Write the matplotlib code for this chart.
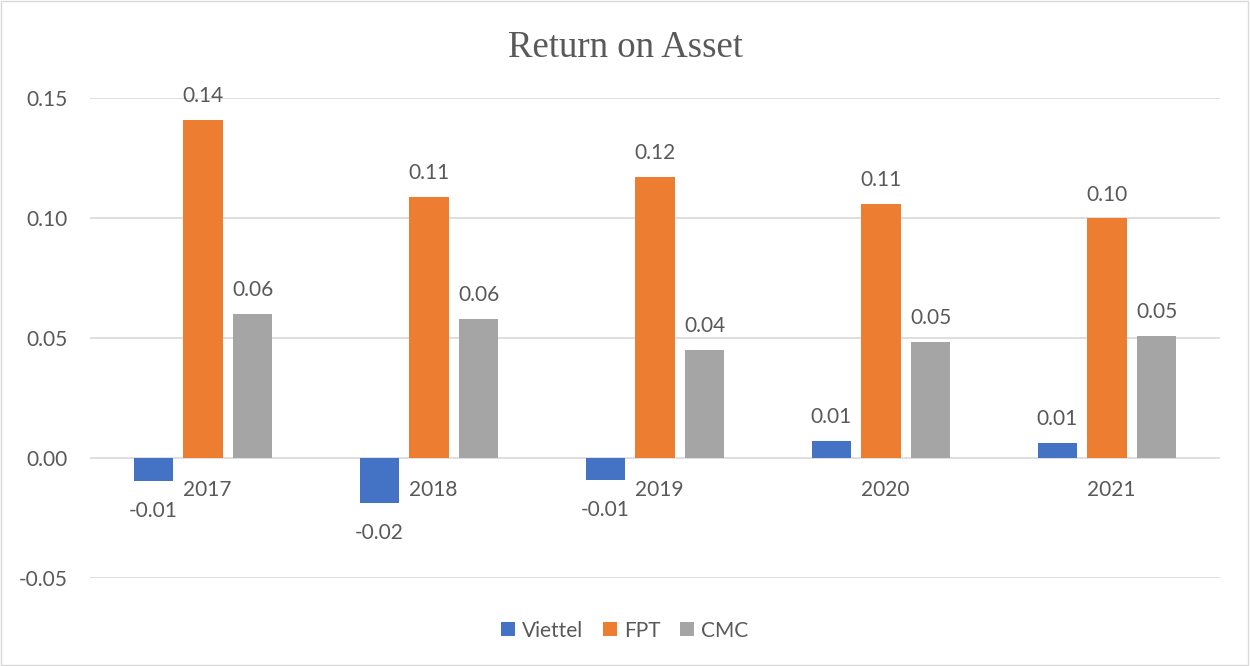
import numpy as np
import matplotlib.pyplot as plt
from matplotlib.patches import Rectangle

# valeurs
annees = ['2017', '2018', '2019', '2020', '2021']
viettel = [-0.0096, -0.0188, -0.0092, 0.0071, 0.0063]
fpt = [0.141, 0.1088, 0.117, 0.106, 0.0998]
cmc = [0.060, 0.0579, 0.045, 0.0483, 0.0508]
series = ['Viettel', 'FPT', 'CMC']
couleurs = ['#4472C4', '#ED7D31', '#A5A5A5']

gris = '#595959'
police = ['Lato', 'DejaVu Sans']
taille = 15

fig = plt.figure(figsize=(12.5, 6.66), dpi=100)
ax = fig.add_axes([0.072, 0.1321, 0.904, 0.7208])

x = np.arange(len(annees))
larg = 0.173
pas = 0.221
for k, (nom, vals, c) in enumerate(zip(series, [viettel, fpt, cmc], couleurs)):
    pos = x + (k - 1) * pas
    ax.bar(pos, vals, width=larg, color=c, label=nom, zorder=3)
    for xi, v in zip(pos, vals):
        if v >= 0:
            ax.text(xi, v + 0.0058, '%.2f' % v, ha='center', va='bottom',
                    fontsize=taille, color=gris, family=police)
        else:
            ax.text(xi, v - 0.0082, '%.2f' % v, ha='center', va='top',
                    fontsize=taille, color=gris, family=police)

# étiquettes des années collées à l'axe 0
for xi, a in zip(x, annees):
    ax.text(xi + 0.02, -0.0135, a, ha='center', va='center', fontsize=taille,
            color=gris, family=police)

ax.set_xlim(-0.5, len(annees) - 0.5)
ax.set_ylim(-0.05, 0.15)
ax.set_yticks([-0.05, 0, 0.05, 0.10, 0.15])
ax.set_yticklabels(['-0.05', '0.00', '0.05', '0.10', '0.15'], fontsize=taille,
                   color=gris, family=police)
ax.set_xticks([])
ax.tick_params(axis='y', length=0, pad=16)
ax.grid(axis='y', color='#D9D9D9', linewidth=1.2, zorder=0)
for s in ax.spines.values():
    s.set_visible(False)

fig.text(0.5, 0.929, 'Return on Asset', ha='center', va='center',
         fontsize=26.5, color=gris, family='Liberation Serif')

leg = fig.legend(loc='center', bbox_to_anchor=(0.5, 0.053), ncol=3, frameon=False,
                 handlelength=0.65, handleheight=0.65, handletextpad=0.35, columnspacing=0.95,
                 prop={'family': police, 'size': taille})
for t in leg.get_texts():
    t.set_color(gris)

# cadre du graphique
fig.patches.append(Rectangle((0.001, 0.002), 0.997, 0.996, transform=fig.transFigure,
                             fill=False, edgecolor='#D9D9D9', linewidth=1))

fig.savefig('out.png', dpi=100)
